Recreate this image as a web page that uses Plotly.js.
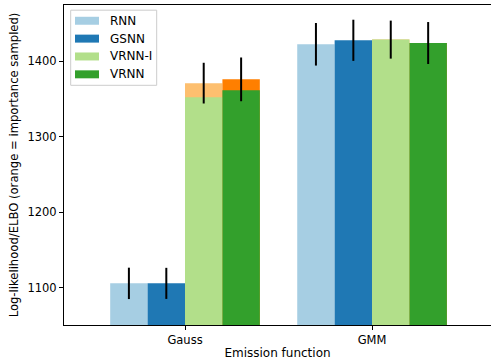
<!DOCTYPE html>
<html>
<head>
<meta charset="utf-8">
<script src="https://cdn.plot.ly/plotly-3.0.1.min.js"></script>
<style>html,body{margin:0;padding:0;background:#fff;}#chart{width:491px;height:360px;}</style>
</head>
<body>
<div id="chart"></div>
<script>
// ---- data ----
const categories = ['Gauss', 'GMM'];
const seriesNames = ['RNN', 'GSNN', 'VRNN-I', 'VRNN'];
const rnnVals = [1105.5, 1422.5];
const gsnnVals = [1105.5, 1427.8];
const vrnnIVals = [1352.4, 1428.7];
const vrnnVals = [1361.6, 1424.2];
// importance-sampled values (orange)
const vrnnIImportance = [1371, 1428.7];
const vrnnImportance = [1376, 1424.2];
// error bar half-widths (around importance-sampled value when present)
const rnnErr = [20.8, 28.2];
const gsnnErr = [20.6, 27.3];
const vrnnIErr = [27, 25.2];
const vrnnErr = [29, 27.8];

// ---- styling ----
const colors = ['#a6cee3', '#1f78b4', '#b2df8a', '#33a02c'];
const orangeColors = ['#fdbf6f', '#ff7f00'];
const barW = 0.2;
const xIdx = categories.map((c, i) => i);

function offsetFor(k) { return -0.4 + k * barW; }

function errFor(vals, centre, err) {
  const plus = vals.map((v, i) => (centre ? centre[i] : v) + err[i] - v);
  const minus = vals.map((v, i) => v - ((centre ? centre[i] : v) - err[i]));
  return {type: 'data', symmetric: false, array: plus, arrayminus: minus,
          color: '#000', thickness: 2, width: 0};
}

const traces = [];
// orange importance-sampled bars (behind)
[[vrnnIImportance, 2, 0], [vrnnImportance, 3, 1]].forEach(([vals, k, oc]) => {
  traces.push({type: 'bar', x: xIdx, y: vals, width: barW, offset: offsetFor(k),
    marker: {color: orangeColors[oc], line: {width: 0}}, showlegend: false, hoverinfo: 'skip'});
});
const mainVals = [rnnVals, gsnnVals, vrnnIVals, vrnnVals];
const centres = [null, null, vrnnIImportance, vrnnImportance];
const errs = [rnnErr, gsnnErr, vrnnIErr, vrnnErr];
mainVals.forEach((vals, k) => {
  traces.push({type: 'bar', name: seriesNames[k], x: xIdx, y: vals, width: barW,
    offset: offsetFor(k), marker: {color: colors[k], line: {width: 0}},
    error_y: errFor(vals, centres[k], errs[k]), showlegend: false});
});

// ---- matplotlib-style legend (box, swatches, labels) in paper coords ----
const W = 491, H = 360, M = {l: 64, r: 0, t: 4.5, b: 34.7};
const pw = W - M.l - M.r, ph = H - M.t - M.b;
const px = v => (v - M.l) / pw;
const py = v => 1 - (v - M.t) / ph;
const shapes = [{type: 'rect', xref: 'paper', yref: 'paper',
  x0: px(70.7), x1: px(156.7), y0: py(85), y1: py(9.7),
  fillcolor: 'rgba(255,255,255,0.8)', line: {color: '#cccccc', width: 1}}];
const annotations = [];
seriesNames.forEach((name, k) => {
  const cy = 20.3 + k * 17.9;
  shapes.push({type: 'rect', xref: 'paper', yref: 'paper',
    x0: px(75), x1: px(99), y0: py(cy + 4), y1: py(cy - 4),
    fillcolor: colors[k], line: {width: 0}});
  annotations.push({xref: 'paper', yref: 'paper', x: px(108), y: py(cy),
    xanchor: 'left', yanchor: 'middle', text: name, showarrow: false,
    font: {family: 'DejaVu Sans, sans-serif', size: 12, color: '#000'}});
});

const fam = 'DejaVu Sans, sans-serif';
const layout = {
  width: W, height: H,
  margin: M,
  barmode: 'overlay',
  paper_bgcolor: '#fff', plot_bgcolor: '#fff',
  font: {family: fam, size: 12, color: '#000'},
  showlegend: false,
  shapes: shapes,
  annotations: annotations,
  xaxis: {range: [-0.647, 1.636], tickvals: xIdx, ticktext: categories,
    tickfont: {family: fam, size: 11.5, color: '#000'},
    showgrid: false, zeroline: false, showline: true, linecolor: '#000', linewidth: 1,
    mirror: true, ticks: 'outside', ticklen: 4, tickcolor: '#000',
    title: {text: 'Emission function', font: {family: fam, size: 12, color: '#000'}, standoff: 2}},
  yaxis: {range: [1050.3, 1474.6], tickvals: [1100, 1200, 1300, 1400],
    tickfont: {family: fam, size: 11.5, color: '#000'},
    showgrid: false, zeroline: false, showline: true, linecolor: '#000', linewidth: 1,
    ticks: 'outside', ticklen: 4, tickcolor: '#000',
    title: {text: 'Log-likelihood/ELBO (orange = importance sampled)', font: {family: fam, size: 11.6, color: '#000'}, standoff: 6}}
};
Plotly.newPlot('chart', traces, layout, {displayModeBar: false, staticPlot: true});
</script>
</body>
</html>
